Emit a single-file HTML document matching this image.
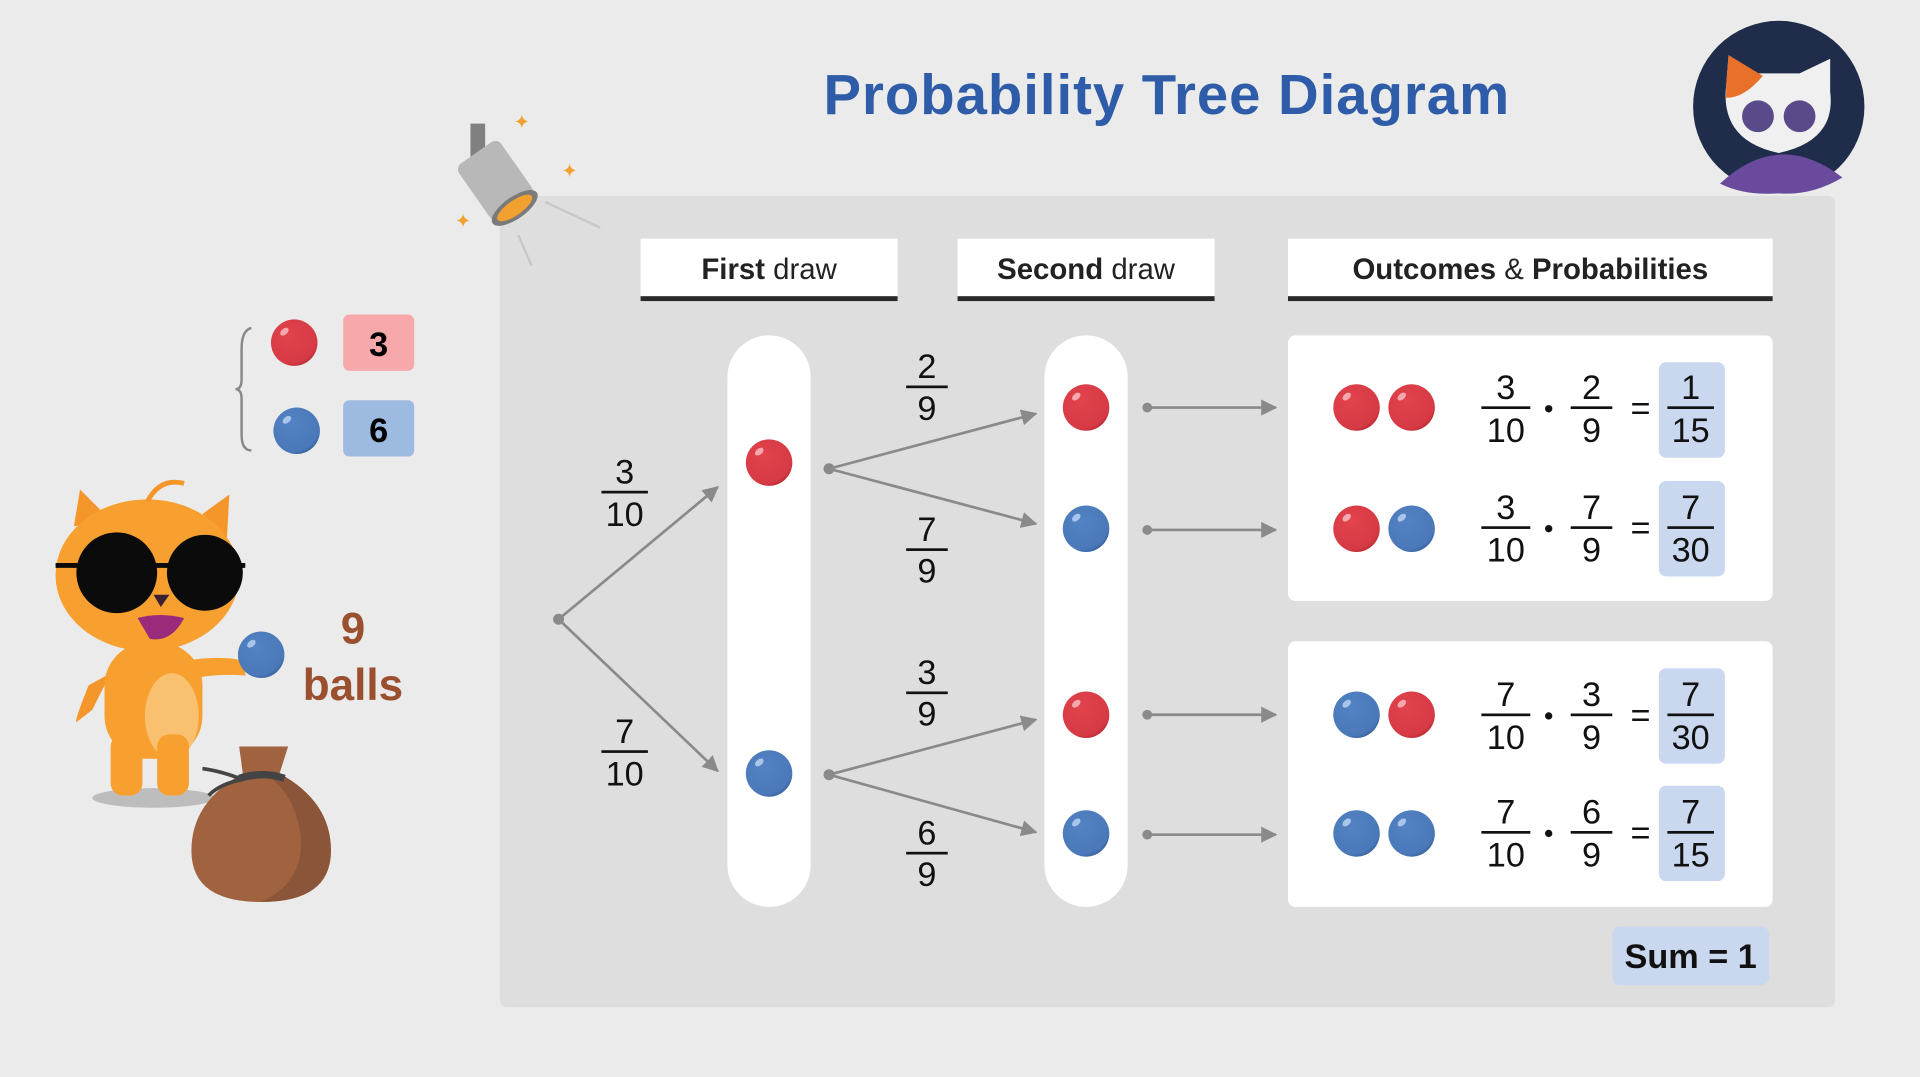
<!DOCTYPE html>
<html><head><meta charset="utf-8"><style>html,body{margin:0;padding:0;background:#ebebeb;overflow:hidden}svg{display:block}</style></head><body>
<svg width="1920" height="1077" viewBox="0 0 1568 880" xmlns="http://www.w3.org/2000/svg" font-family="Liberation Sans, sans-serif">
<defs>
<radialGradient id="rg" cx="0.4" cy="0.35" r="0.7"><stop offset="0" stop-color="#e2434d"/><stop offset="0.85" stop-color="#d63a44"/><stop offset="1" stop-color="#b52a33"/></radialGradient>
<radialGradient id="bg" cx="0.4" cy="0.35" r="0.7"><stop offset="0" stop-color="#5383c4"/><stop offset="0.85" stop-color="#4a78b8"/><stop offset="1" stop-color="#345f9a"/></radialGradient>
<g id="R"><circle r="19" fill="url(#rg)"/><ellipse cx="-8" cy="-9" rx="4" ry="2.5" fill="#f6a8ae" transform="rotate(-40 -8 -9)"/></g>
<g id="B"><circle r="19" fill="url(#bg)"/><ellipse cx="-8" cy="-9" rx="4" ry="2.5" fill="#a9c5ec" transform="rotate(-40 -8 -9)"/></g>
<marker id="ah" viewBox="0 0 10 10" refX="9" refY="5" markerWidth="6" markerHeight="6" orient="auto"><path d="M0,0 L10,5 L0,10 z" fill="#8a8a8a"/></marker>
</defs>
<rect width="1568" height="880" fill="#ebebeb"/>
<rect x="408" y="160" width="1091" height="663" rx="6" fill="#dedede"/>

<text x="953" y="93" text-anchor="middle" font-size="46" letter-spacing="0.8" font-weight="bold" fill="#2e5ca8">Probability Tree Diagram</text>

<!-- avatar -->
<circle cx="1453" cy="87" r="70" fill="#1f2d4a"/>
<path d="M1405,150 Q1453,105 1505,145 Q1480,160 1453,158 Q1425,160 1405,150z" fill="#6a4a9c"/>
<path d="M1410,70 L1412,45 L1435,60 L1470,60 L1495,48 L1495,75 Q1500,115 1453,125 Q1405,115 1410,70z" fill="#f0f0f0"/>
<path d="M1410,70 L1412,45 L1440,62 Q1425,80 1410,80z" fill="#e8702a"/>
<circle cx="1436" cy="95" r="13" fill="#5a4a8a"/><circle cx="1470" cy="95" r="13" fill="#5a4a8a"/>

<!-- spotlight -->
<rect x="384" y="101" width="12" height="30" fill="#808080"/>
<g transform="rotate(-35 405 150)"><rect x="385" y="120" width="42" height="55" rx="6" fill="#b8b8b8"/><ellipse cx="406" cy="175" rx="22" ry="9" fill="#7a7a7a"/><ellipse cx="406" cy="175" rx="17" ry="6" fill="#f2a030"/></g>
<line x1="445" y1="165" x2="490" y2="186" stroke="#c8c8c8" stroke-width="2"/>
<line x1="423" y1="192" x2="434" y2="217" stroke="#c8c8c8" stroke-width="2"/>
<text x="426" y="105" font-size="16" fill="#f2a030" text-anchor="middle">✦</text>
<text x="465" y="145" font-size="16" fill="#f2a030" text-anchor="middle">✦</text>
<text x="378" y="186" font-size="16" fill="#f2a030" text-anchor="middle">✦</text>

<!-- legend -->
<path d="M205,268 Q197,270 197,285 L197,310 Q197,318 192,318 Q197,318 197,326 L197,355 Q197,368 205,368" fill="none" stroke="#888" stroke-width="2"/>
<use href="#R" x="240" y="280"/>
<rect x="280" y="257" width="58" height="46" rx="5" fill="#f7a8ab"/>
<text x="309" y="291" text-anchor="middle" font-size="28" font-weight="bold">3</text>
<use href="#B" x="242" y="352"/>
<rect x="280" y="327" width="58" height="46" rx="5" fill="#9dbae0"/>
<text x="309" y="361" text-anchor="middle" font-size="28" font-weight="bold">6</text>

<text x="288" y="526" text-anchor="middle" font-size="36" font-weight="bold" fill="#9a4f2e">9</text>
<text x="288" y="572" text-anchor="middle" font-size="36" font-weight="bold" fill="#9a4f2e">balls</text>

<!-- cat -->
<ellipse cx="125" cy="652" rx="50" ry="8" fill="#bdbdbd"/>
<path d="M72,560 Q60,590 62,590 L75,580 Q85,560 90,550z" fill="#f4962a"/>
<rect x="85" y="525" width="80" height="95" rx="35" fill="#f7a030"/>
<ellipse cx="140" cy="585" rx="22" ry="35" fill="#f9c070"/>
<rect x="90" y="600" width="26" height="50" rx="10" fill="#f7a030"/>
<rect x="128" y="600" width="26" height="50" rx="10" fill="#f7a030"/>
<path d="M150,540 Q180,535 200,540 L200,552 Q175,550 155,555z" fill="#f7a030"/>
<path d="M60,430 L65,400 L90,425z" fill="#f4962a"/>
<path d="M165,420 L187,404 L185,440z" fill="#f4962a"/>
<ellipse cx="120" cy="470" rx="75" ry="62" fill="#f7a030"/>
<path d="M120,410 Q130,390 150,395" fill="none" stroke="#f4962a" stroke-width="4"/>
<circle cx="95" cy="468" r="33" fill="#0b0b0b"/><circle cx="167" cy="468" r="31" fill="#0b0b0b"/>
<line x1="45" y1="462" x2="200" y2="462" stroke="#0b0b0b" stroke-width="4"/>
<path d="M125,486 L138,486 L131,496z" fill="#3a2030"/>
<path d="M112,505 Q130,500 150,505 Q140,525 122,522z" fill="#9a2a7a"/>
<use href="#B" x="213" y="535"/>
<!-- bag -->
<path d="M195,610 L235,610 L228,632 Q270,655 270,695 Q270,737 213,737 Q156,737 156,695 Q156,655 198,632z" fill="#a0623f"/>
<path d="M228,632 Q270,655 270,695 Q270,737 213,737 Q250,720 245,680 Q240,650 220,635z" fill="#8a5538"/>
<path d="M195,636 Q215,630 232,636" fill="none" stroke="#444" stroke-width="6"/>
<path d="M198,637 Q180,640 170,650 M198,637 Q180,630 165,628" fill="none" stroke="#444" stroke-width="3"/>

<!-- headers -->
<g font-size="24" text-anchor="middle" fill="#222">
<rect x="523" y="195" width="210" height="50" fill="#fff"/><rect x="523" y="242" width="210" height="4" fill="#2a2a2a"/>
<text x="628" y="228"><tspan font-weight="bold">First</tspan> draw</text>
<rect x="782" y="195" width="210" height="50" fill="#fff"/><rect x="782" y="242" width="210" height="4" fill="#2a2a2a"/>
<text x="887" y="228"><tspan font-weight="bold">Second</tspan> draw</text>
<rect x="1052" y="195" width="396" height="50" fill="#fff"/><rect x="1052" y="242" width="396" height="4" fill="#2a2a2a"/>
<text x="1250" y="228"><tspan font-weight="bold">Outcomes</tspan>  &amp;  <tspan font-weight="bold">Probabilities</tspan></text>
</g>

<!-- columns -->
<rect x="594" y="274" width="68" height="467" rx="34" fill="#fff"/>
<rect x="853" y="274" width="68" height="467" rx="34" fill="#fff"/>
<rect x="1052" y="274" width="396" height="217" rx="6" fill="#fff"/>
<rect x="1052" y="524" width="396" height="217" rx="6" fill="#fff"/>

<!-- tree lines -->
<g stroke="#8a8a8a" stroke-width="2.2" fill="none">
<line x1="456" y1="506" x2="586" y2="398" marker-end="url(#ah)"/>
<line x1="456" y1="506" x2="586" y2="630" marker-end="url(#ah)"/>
<line x1="677" y1="383" x2="846" y2="338" marker-end="url(#ah)"/>
<line x1="677" y1="383" x2="846" y2="428" marker-end="url(#ah)"/>
<line x1="677" y1="633" x2="846" y2="588" marker-end="url(#ah)"/>
<line x1="677" y1="633" x2="846" y2="680" marker-end="url(#ah)"/>
<line x1="937" y1="333" x2="1042" y2="333" marker-end="url(#ah)"/>
<line x1="937" y1="433" x2="1042" y2="433" marker-end="url(#ah)"/>
<line x1="937" y1="584" x2="1042" y2="584" marker-end="url(#ah)"/>
<line x1="937" y1="682" x2="1042" y2="682" marker-end="url(#ah)"/>
</g>
<g fill="#8a8a8a"><circle cx="456" cy="506" r="4.5"/><circle cx="677" cy="383" r="4.5"/><circle cx="677" cy="633" r="4.5"/>
<circle cx="937" cy="333" r="4"/><circle cx="937" cy="433" r="4"/><circle cx="937" cy="584" r="4"/><circle cx="937" cy="682" r="4"/></g>

<use href="#R" x="628" y="378"/><use href="#B" x="628" y="632"/>
<use href="#R" x="887" y="333"/><use href="#B" x="887" y="432"/><use href="#R" x="887" y="584"/><use href="#B" x="887" y="681"/>

<!-- tree fraction labels -->
<g font-size="28" text-anchor="middle" fill="#111">
<text x="510" y="395">3</text><rect x="491" y="401" width="38" height="2.2"/><text x="510" y="430">10</text>
<text x="510" y="607">7</text><rect x="491" y="613" width="38" height="2.2"/><text x="510" y="642">10</text>
<text x="757" y="309">2</text><rect x="740" y="315" width="34" height="2.2"/><text x="757" y="343">9</text>
<text x="757" y="442">7</text><rect x="740" y="448" width="34" height="2.2"/><text x="757" y="476">9</text>
<text x="757" y="559">3</text><rect x="740" y="565" width="34" height="2.2"/><text x="757" y="593">9</text>
<text x="757" y="690">6</text><rect x="740" y="696" width="34" height="2.2"/><text x="757" y="724">9</text>
</g>

<!-- outcomes -->
<use href="#R" x="1108" y="333"/><use href="#R" x="1153" y="333"/>
<use href="#R" x="1108" y="432"/><use href="#B" x="1153" y="432"/>
<use href="#B" x="1108" y="584"/><use href="#R" x="1153" y="584"/>
<use href="#B" x="1108" y="681"/><use href="#B" x="1153" y="681"/>

<g fill="#c9d8ee">
<rect x="1355" y="296" width="54" height="78" rx="6"/>
<rect x="1355" y="393" width="54" height="78" rx="6"/>
<rect x="1355" y="546" width="54" height="78" rx="6"/>
<rect x="1355" y="642" width="54" height="78" rx="6"/>
<rect x="1317" y="757" width="128" height="48" rx="6"/>
</g>

<g font-size="28" text-anchor="middle" fill="#111">
<text x="1230" y="326">3</text><rect x="1210" y="332" width="40" height="2.2"/><text x="1230" y="361">10</text>
<circle cx="1265" cy="334" r="3"/>
<text x="1300" y="326">2</text><rect x="1283" y="332" width="34" height="2.2"/><text x="1300" y="361">9</text>
<text x="1340" y="343">=</text>
<text x="1381" y="326">1</text><rect x="1362" y="332" width="38" height="2.2"/><text x="1381" y="361">15</text>
<text x="1230" y="424">3</text><rect x="1210" y="430" width="40" height="2.2"/><text x="1230" y="459">10</text>
<circle cx="1265" cy="432" r="3"/>
<text x="1300" y="424">7</text><rect x="1283" y="430" width="34" height="2.2"/><text x="1300" y="459">9</text>
<text x="1340" y="441">=</text>
<text x="1381" y="424">7</text><rect x="1362" y="430" width="38" height="2.2"/><text x="1381" y="459">30</text>
<text x="1230" y="577">7</text><rect x="1210" y="583" width="40" height="2.2"/><text x="1230" y="612">10</text>
<circle cx="1265" cy="585" r="3"/>
<text x="1300" y="577">3</text><rect x="1283" y="583" width="34" height="2.2"/><text x="1300" y="612">9</text>
<text x="1340" y="594">=</text>
<text x="1381" y="577">7</text><rect x="1362" y="583" width="38" height="2.2"/><text x="1381" y="612">30</text>
<text x="1230" y="673">7</text><rect x="1210" y="679" width="40" height="2.2"/><text x="1230" y="708">10</text>
<circle cx="1265" cy="681" r="3"/>
<text x="1300" y="673">6</text><rect x="1283" y="679" width="34" height="2.2"/><text x="1300" y="708">9</text>
<text x="1340" y="690">=</text>
<text x="1381" y="673">7</text><rect x="1362" y="679" width="38" height="2.2"/><text x="1381" y="708">15</text>
<text x="1381" y="791" font-weight="bold">Sum = 1</text>
</g>
</svg>
</body></html>
